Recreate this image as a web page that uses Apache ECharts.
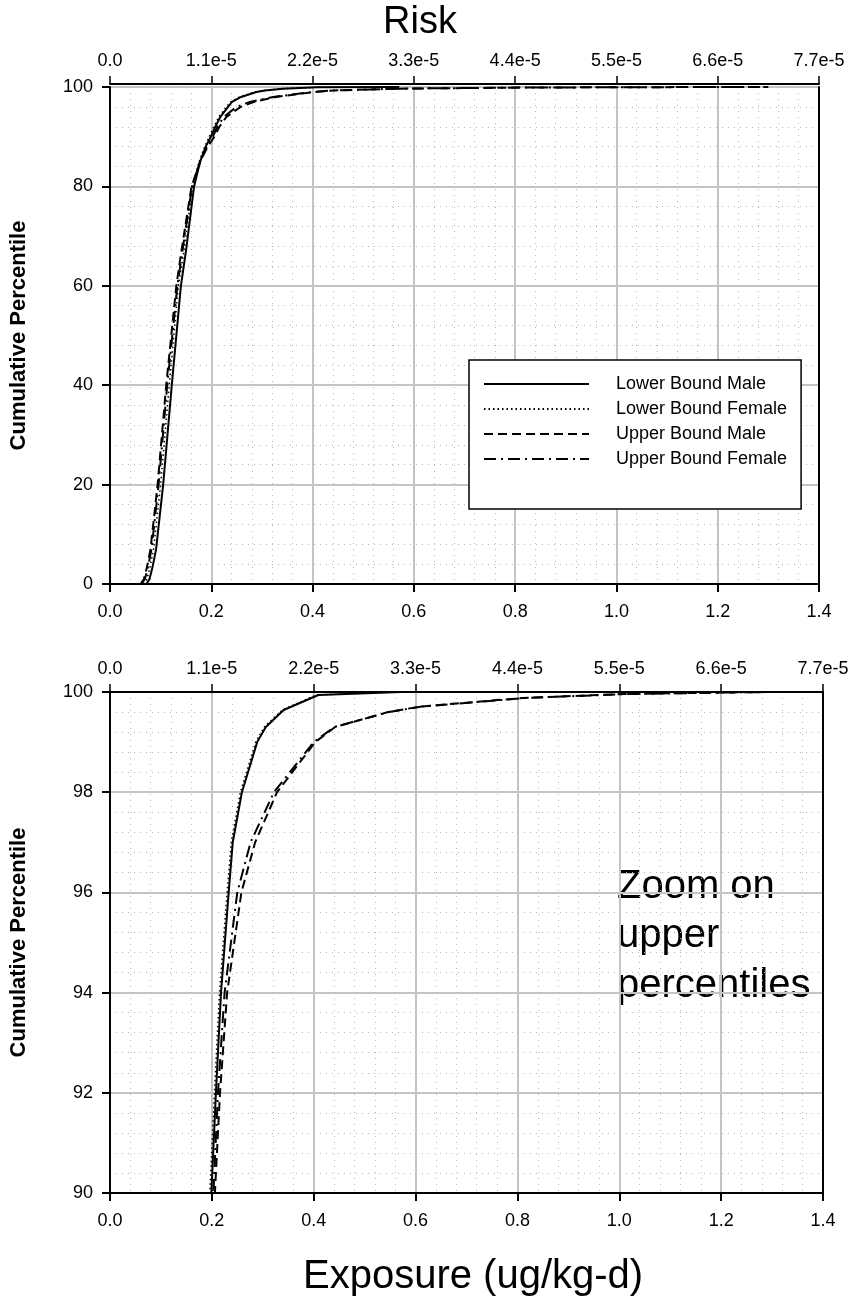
<!DOCTYPE html>
<html>
<head>
<meta charset="utf-8">
<script src="https://cdn.jsdelivr.net/npm/echarts@6/dist/echarts.min.js"></script>
<style>
  html, body { margin: 0; padding: 0; background: #fff; }
  #chart { width: 855px; height: 1302px; }
</style>
</head>
<body>
<div id="chart"></div>
<script>
// ---- Data ----
const seriesNames = ['Lower Bound Male', 'Lower Bound Female', 'Upper Bound Male', 'Upper Bound Female'];
const exposureTicks = ['0.0', '0.2', '0.4', '0.6', '0.8', '1.0', '1.2', '1.4'];
const riskTicks = ['0.0', '1.1e-5', '2.2e-5', '3.3e-5', '4.4e-5', '5.5e-5', '6.6e-5', '7.7e-5'];
const pctTicksFull = ['0', '20', '40', '60', '80', '100'];
const pctTicksZoom = ['90', '92', '94', '96', '98', '100'];

// [exposure (ug/kg-d), cumulative percentile]
const lowerMale = [[0.072,0],[0.078,1],[0.084,3.4],[0.091,7],[0.105,20],[0.122,40],[0.140,60],[0.150,67],[0.166,80],[0.178,85],[0.189,88],[0.199,90],[0.208,92],[0.218,94],[0.233,96],[0.241,97],[0.259,98],[0.289,99],[0.306,99.3],[0.341,99.64],[0.409,99.94],[0.571,100]];
const lowerFemale = [[0.066,0],[0.073,1],[0.079,3.4],[0.086,7],[0.100,20],[0.117,40],[0.135,60],[0.146,67],[0.163,80],[0.176,85],[0.187,88],[0.196,90],[0.205,92],[0.215,94],[0.230,96],[0.238,97],[0.256,98],[0.286,99],[0.303,99.3],[0.338,99.64],[0.405,99.94],[0.560,100]];
const upperMale = [[0.060,0],[0.067,1],[0.073,3.4],[0.080,7],[0.094,20],[0.111,40],[0.131,60],[0.141,67],[0.161,80],[0.178,85],[0.193,88],[0.206,90],[0.216,92],[0.230,94],[0.258,96],[0.285,97],[0.328,98],[0.403,99],[0.442,99.3],[0.546,99.6],[0.610,99.71],[0.810,99.88],[1.010,99.96],[1.210,99.99],[1.300,100]];
const upperFemale = [[0.062,0],[0.069,1],[0.075,3.4],[0.082,7],[0.096,20],[0.113,40],[0.133,60],[0.143,67],[0.162,80],[0.178,85],[0.191,88],[0.203,90],[0.212,92],[0.225,94],[0.250,96],[0.276,97],[0.322,98],[0.400,99],[0.440,99.3],[0.548,99.6],[0.612,99.71],[0.815,99.88],[1.015,99.96],[1.220,99.99],[1.300,100]];
const seriesData = [lowerMale, lowerFemale, upperMale, upperFemale];

// ---- Styles ----
const FONT = '"Liberation Sans", Arial, sans-serif';
const lineTypes = ['solid', [1.5, 3], [9, 5], [12, 5, 2, 5]];
const lineWidths = [2, 1.5, 2, 2];
const gridColor = '#c4c4c4';

function tickIndexFmt(labels, min, step) {
  return function (v) {
    const i = Math.round((v - min) / step);
    return labels[i] !== undefined ? labels[i] : '';
  };
}

function bottomX(gi) {
  return {
    type: 'value', gridIndex: gi, position: 'bottom', min: 0, max: 1.4, interval: 0.2,
    axisLine: { show: true, onZero: false, lineStyle: { color: '#000', width: 2 } },
    axisTick: { show: true, inside: false, length: 8, lineStyle: { color: '#000', width: 2 } },
    axisLabel: { fontSize: 18, color: '#000', fontFamily: FONT, margin: 19,
      formatter: tickIndexFmt(exposureTicks, 0, 0.2) },
    splitLine: { show: true, lineStyle: { color: gridColor, width: 2 } },
    minorTick: { show: false, splitNumber: 5 },
    minorSplitLine: { show: true, lineStyle: { color: '#b8b8b8', width: 1, type: [1, 5] } }
  };
}
function topX(gi, offset) {
  return {
    type: 'value', gridIndex: gi, position: 'top', offset: offset, min: 0, max: 7.7e-5, interval: 1.1e-5,
    axisLine: { show: true, onZero: false, lineStyle: { color: '#000', width: 2 } },
    axisTick: { show: true, inside: false, length: 8, lineStyle: { color: '#000', width: 1.5 } },
    axisLabel: { fontSize: 18, color: '#000', fontFamily: FONT, margin: 14,
      formatter: tickIndexFmt(riskTicks, 0, 1.1e-5) },
    splitLine: { show: false }
  };
}
function leftY(gi, min, max, step, labels) {
  return {
    type: 'value', gridIndex: gi, position: 'left', min: min, max: max, interval: step,
    name: 'Cumulative Percentile', nameLocation: 'middle', nameGap: 80, nameRotate: 90,
    nameTextStyle: { fontSize: 22, fontWeight: 'bold', color: '#000', fontFamily: FONT },
    axisLine: { show: true, onZero: false, lineStyle: { color: '#000', width: 2 } },
    axisTick: { show: true, inside: false, length: 8, lineStyle: { color: '#000', width: 2 } },
    axisLabel: { fontSize: 18, color: '#000', fontFamily: FONT, margin: 17,
      formatter: tickIndexFmt(labels, min, step) },
    splitLine: { show: true, lineStyle: { color: gridColor, width: 2 } },
    minorTick: { show: false, splitNumber: 5 },
    minorSplitLine: { show: true, lineStyle: { color: '#b8b8b8', width: 1, type: [1, 5] } }
  };
}
function rightY(gi, min, max) {
  return {
    type: 'value', gridIndex: gi, position: 'right', min: min, max: max,
    axisLine: { show: true, onZero: false, lineStyle: { color: '#000', width: 2 } },
    axisTick: { show: false }, axisLabel: { show: false }, splitLine: { show: false }
  };
}

const series = [];
[0, 1].forEach(function (g) {
  seriesData.forEach(function (d, i) {
    series.push({
      type: 'line', name: seriesNames[i], data: d,
      xAxisIndex: g === 0 ? 0 : 2, yAxisIndex: g === 0 ? 0 : 2,
      symbol: 'none', showSymbol: false, clip: true, silent: true,
      lineStyle: { color: '#000', width: lineWidths[i], type: lineTypes[i] },
      itemStyle: { color: '#000' },
      z: 5 - i
    });
  });
});

const option = {
  animation: false,
  backgroundColor: '#fff',
  grid: [
    { left: 99, right: 36, top: 87, height: 497, containLabel: false },
    { left: 104, right: 32, top: 692, height: 501, containLabel: false }
  ],
  xAxis: [bottomX(0), topX(0, 3), bottomX(1), topX(1, 0)],
  yAxis: [leftY(0, 0, 100, 20, pctTicksFull), rightY(0, 0, 100), leftY(1, 90, 100, 2, pctTicksZoom), rightY(1, 90, 100)],
  legend: {
    data: seriesNames, orient: 'vertical', left: 469, top: 360,
    padding: [14, 14, 40, 14], itemWidth: 105, itemHeight: 14, itemGap: 5,
    selectedMode: false, backgroundColor: '#fff', borderColor: '#000', borderWidth: 1.5, borderRadius: 0,
    itemStyle: { color: 'rgba(0,0,0,0)', borderColor: 'rgba(0,0,0,0)', borderWidth: 0, opacity: 0 },
    textStyle: { fontSize: 18, color: '#000', fontFamily: FONT, padding: [0, 0, 0, 22], lineHeight: 20 }
  },
  graphic: [
    { type: 'text', left: 383, top: 4, style: { text: 'Risk', font: '38px ' + FONT, fill: '#000' } },
    { type: 'text', left: 303, top: 1257, style: { text: 'Exposure (ug/kg-d)', font: '40px ' + FONT, fill: '#000' } },
    { type: 'text', left: 617, top: 862, style: { text: 'Zoom on\nupper\npercentiles', font: '40px ' + FONT, lineHeight: 49.5, fill: '#000' } }
  ],
  series: series
};

const chart = echarts.init(document.getElementById('chart'), null, { renderer: 'canvas' });
chart.setOption(option);
</script>
</body>
</html>
